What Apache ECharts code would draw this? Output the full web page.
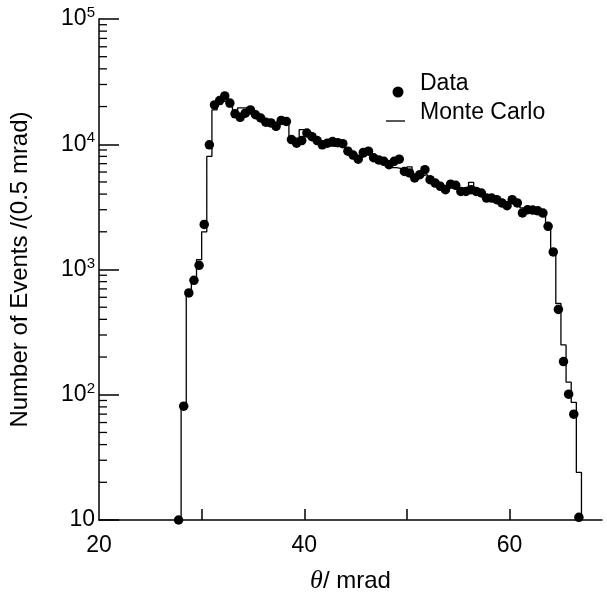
<!DOCTYPE html>
<html>
<head>
<meta charset="utf-8">
<script src="https://cdn.jsdelivr.net/npm/echarts@6/dist/echarts.min.js"></script>
<style>
html,body{margin:0;padding:0;background:#fff;}
#chart{width:607px;height:599px;}
</style>
</head>
<body>
<div id="chart"></div>
<script>
// Data points: bin centres (mrad) and counts per 0.5 mrad
var dataTheta = [27.75, 28.25, 28.75, 29.25, 29.75, 30.25, 30.75, 31.25, 31.75, 32.25,
  32.75, 33.25, 33.75, 34.25, 34.75, 35.25, 35.75, 36.25, 36.75, 37.25,
  37.75, 38.25, 38.75, 39.25, 39.75, 40.25, 40.75, 41.25, 41.75, 42.25,
  42.75, 43.25, 43.75, 44.25, 44.75, 45.25, 45.75, 46.25, 46.75, 47.25,
  47.75, 48.25, 48.75, 49.25, 49.75, 50.25, 50.75, 51.25, 51.75, 52.25,
  52.75, 53.25, 53.75, 54.25, 54.75, 55.25, 55.75, 56.25, 56.75, 57.25,
  57.75, 58.25, 58.75, 59.25, 59.75, 60.25, 60.75, 61.25, 61.75, 62.25,
  62.75, 63.25, 63.75, 64.25, 64.75, 65.25, 65.75, 66.25, 66.75];
var dataCounts = [10, 81, 650, 820, 1080, 2290, 9900, 20600, 22300, 24300,
  21300, 17500, 16400, 17700, 18800, 17200, 16200, 15000, 14800, 13900,
  15500, 15200, 10900, 10200, 10700, 12300, 11500, 10700, 9900, 10200,
  10500, 10300, 10100, 8800, 8200, 7600, 8600, 8800, 7800, 7500,
  7300, 6870, 7300, 7600, 6070, 5900, 5380, 5710, 6270, 5210,
  4900, 4610, 4340, 4800, 4700, 4200, 4200, 4340, 4200, 4080,
  3720, 3720, 3610, 3400, 3230, 3610, 3400, 2830, 3000, 2980,
  2940, 2820, 2210, 1380, 480, 184, 101, 70, 10.5];

// Monte Carlo histogram: bin low edges and contents
var mcEdges = [28.0, 28.5, 29.0, 29.5, 30.0, 30.5, 31.0, 31.5, 32.0, 32.5,
  33.0, 33.5, 34.0, 34.5, 35.0, 35.5, 36.0, 36.5, 37.0, 37.5,
  38.0, 38.5, 39.0, 39.5, 40.0, 40.5, 41.0, 41.5, 42.0, 42.5,
  43.0, 43.5, 44.0, 44.5, 45.0, 45.5, 46.0, 46.5, 47.0, 47.5,
  48.0, 48.5, 49.0, 49.5, 50.0, 50.5, 51.0, 51.5, 52.0, 52.5,
  53.0, 53.5, 54.0, 54.5, 55.0, 55.5, 56.0, 56.5, 57.0, 57.5,
  58.0, 58.5, 59.0, 59.5, 60.0, 60.5, 61.0, 61.5, 62.0, 62.5,
  63.0, 63.5, 64.0, 64.5, 65.0, 65.5, 66.0, 66.5];
var mcCounts = [83, 680, 830, 1200, 2000, 8000, 18800, 21000, 22000, 20000,
  18600, 19500, 19500, 18500, 17500, 16500, 15500, 15000, 14300, 14800,
  14800, 11200, 11200, 13100, 12500, 11800, 11000, 10400, 9700, 9600,
  9600, 9400, 9000, 8200, 7800, 8000, 8300, 7900, 7600, 7300,
  7000, 6500, 6400, 6200, 6600, 5700, 5600, 5720, 5300, 5000,
  4750, 4500, 4650, 4500, 4300, 4300, 4970, 4300, 4100, 3900,
  3800, 3650, 3500, 3450, 3450, 3350, 3100, 3050, 2950, 2950,
  2900, 2230, 1390, 535, 250, 126, 87, 24];
var mcBinWidth = 0.5;

// Axes
var xTickValues = [30, 40, 50, 60];
var xLabelValues = [20, 40, 60];
var yMinorValues = [20, 30, 40, 50, 60, 70, 80, 90,
  200, 300, 400, 500, 600, 700, 800, 900,
  2000, 3000, 4000, 5000, 6000, 7000, 8000, 9000,
  20000, 30000, 40000, 50000, 60000, 70000, 80000, 90000];

var FONT = '"Liberation Sans", Arial, Helvetica, sans-serif';

var scatterData = dataTheta.map(function (t, i) { return [t, dataCounts[i]]; });
var yFloor = 10;
var mcLine = [[mcEdges[0], yFloor]];
mcEdges.forEach(function (e, i) {
  mcLine.push([e, mcCounts[i]]);
  mcLine.push([e + mcBinWidth, mcCounts[i]]);
});
mcLine.push([mcEdges[mcEdges.length - 1] + mcBinWidth, yFloor]);

var chart = echarts.init(document.getElementById('chart'), null, {renderer: 'canvas'});
var option = {
  backgroundColor: '#fff',
  animation: false,
  textStyle: {fontFamily: FONT, color: '#000'},
  grid: {left: 98, right: 5, top: 19, bottom: 78, containLabel: false},
  xAxis: {
    type: 'value', min: 20, max: 69, interval: 10,
    name: '{i|θ}/ mrad', nameLocation: 'middle', nameGap: 48,
    nameTextStyle: {fontSize: 24, color: '#000', fontFamily: FONT,
      rich: {i: {fontFamily: '"Liberation Serif", "DejaVu Serif", serif', fontStyle: 'italic', fontSize: 26, color: '#000'}}},
    axisLine: {show: true, lineStyle: {color: '#000', width: 1.5}},
    axisTick: {show: true, inside: true, length: 11, lineStyle: {color: '#000', width: 1.5}, customValues: xTickValues},
    axisLabel: {show: true, fontSize: 23, color: '#000', margin: 14, fontFamily: FONT, customValues: xLabelValues},
    splitLine: {show: false}
  },
  yAxis: {
    type: 'log', logBase: 10, min: 10, max: 100000,
    name: 'Number of Events /(0.5 mrad)', nameLocation: 'middle', nameGap: 67,
    nameTextStyle: {fontSize: 24, color: '#000', fontFamily: FONT},
    axisLine: {show: true, lineStyle: {color: '#000', width: 1.5}},
    axisTick: {show: true, inside: true, length: 20, lineStyle: {color: '#000', width: 1.5}},
    axisLabel: {
      show: true, fontSize: 23, color: '#000', margin: 4, fontFamily: FONT,
      formatter: function (v) {
        var e = Math.round(Math.log(v) / Math.LN10);
        return e === 1 ? '10' : '10{sup|' + e + '}';
      },
      rich: {sup: {fontSize: 15, color: '#000', fontFamily: FONT, verticalAlign: 'top', padding: [0, 0, 12, 0]}}
    },
    splitLine: {show: false},
    minorTick: {show: false}
  },
  series: [
    {
      name: 'minor ticks', type: 'custom', silent: true, z: 1,
      data: yMinorValues.map(function (v) { return [20, v]; }),
      encode: {x: 0, y: 1},
      renderItem: function (params, api) {
        var p = api.coord([api.value(0), api.value(1)]);
        return {type: 'line', shape: {x1: p[0], y1: p[1], x2: p[0] + 8, y2: p[1]},
          style: {stroke: '#000', lineWidth: 1.3}};
      }
    },
    {
      name: 'Monte Carlo', type: 'line', data: mcLine, showSymbol: false, symbol: 'none',
      clip: true, z: 2, lineStyle: {color: '#000', width: 1.3}
    },
    {
      name: 'Data', type: 'scatter', data: scatterData, symbol: 'circle', symbolSize: 9.5,
      clip: false, z: 3, itemStyle: {color: '#000', opacity: 1}
    }
  ],
  graphic: [
    {type: 'circle', shape: {cx: 398, cy: 92, r: 5.5}, style: {fill: '#000'}},
    {type: 'text', x: 420, y: 84, style: {text: 'Data', font: '23px ' + FONT, fill: '#000', textVerticalAlign: 'middle'}},
    {type: 'line', shape: {x1: 386, y1: 121, x2: 405, y2: 121}, style: {stroke: '#000', lineWidth: 1.3}},
    {type: 'text', x: 420, y: 113, style: {text: 'Monte Carlo', font: '23px ' + FONT, fill: '#000', textVerticalAlign: 'middle'}}
  ]
};
chart.setOption(option);
</script>
</body>
</html>
